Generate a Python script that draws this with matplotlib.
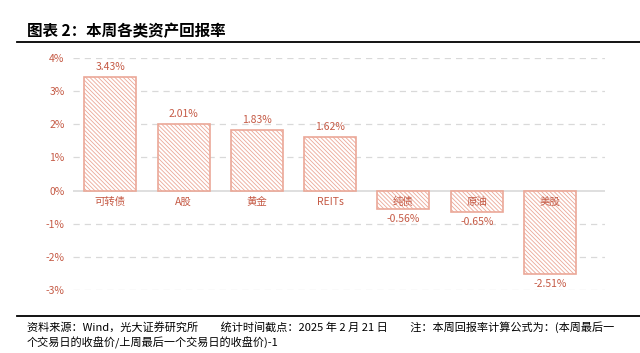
import matplotlib.pyplot as plt
import numpy as np

plt.rcParams['font.family'] = ['Noto Sans CJK SC', 'DejaVu Sans']
plt.rcParams['hatch.linewidth'] = 0.6

categories = ['可转债', 'A股', '黄金', 'REITs', '纯债', '原油', '美股']
returns = [3.43, 2.01, 1.83, 1.62, -0.56, -0.65, -2.51]
yticks = [-3, -2, -1, 0, 1, 2, 3, 4]

text_color = '#C55A45'
edge_color = '#EBA898'

fig = plt.figure(figsize=(6.4, 3.53), dpi=100)
ax = fig.add_axes([73/640, 1-290/353, 532/640, 232/353])

x = np.arange(len(categories))
ax.bar(x, returns, width=0.71, facecolor='white', edgecolor=edge_color,
       hatch='\\' * 8, linewidth=1.2, zorder=3)

for xi, v, c in zip(x, returns, categories):
    if v >= 0:
        ax.text(xi, v + 0.15, f'{v:.2f}%', ha='center', va='bottom', color=text_color, fontsize=7.5, zorder=4)
    else:
        ax.text(xi, v - 0.15, f'{v:.2f}%', ha='center', va='top', color=text_color, fontsize=7.5, zorder=4)
    ax.text(xi, -0.18, c, ha='center', va='top', color=text_color, fontsize=7.5, zorder=4)

ax.set_xlim(-0.51, 6.75)
ax.set_ylim(-3, 4)
ax.set_yticks(yticks)
ax.set_yticklabels([f'{t}%' for t in yticks], color=text_color, fontsize=7.5)
ax.set_xticks([])
for t in yticks:
    if t == 0:
        ax.axhline(0, color='#D9D9D9', linewidth=1.2, zorder=2)
    else:
        ax.axhline(t, color='#D9D9D9', linewidth=0.9, linestyle=(0, (5, 4)), zorder=1)
for s in ax.spines.values():
    s.set_visible(False)
ax.tick_params(axis='y', length=0, pad=6)

# title and footer
fig.text(27/640, 1-31/353, '图表 2：本周各类资产回报率', fontsize=11.2, fontweight='bold', va='center', ha='left')
fig.add_artist(plt.Line2D([17/640, 1], [1-42/353, 1-42/353], color='black', linewidth=1.3))
fig.add_artist(plt.Line2D([17/640, 1], [1-316/353, 1-316/353], color='black', linewidth=1.3))
fig.text(27/640, 1-327/353, '资料来源：Wind，光大证券研究所         统计时间截点：2025 年 2 月 21 日         注：本周回报率计算公式为：(本周最后一',
         fontsize=8, va='center', ha='left')
fig.text(27/640, 1-343/353, '个交易日的收盘价/上周最后一个交易日的收盘价)-1', fontsize=8, va='center', ha='left')

fig.savefig('out.png', dpi=100)
